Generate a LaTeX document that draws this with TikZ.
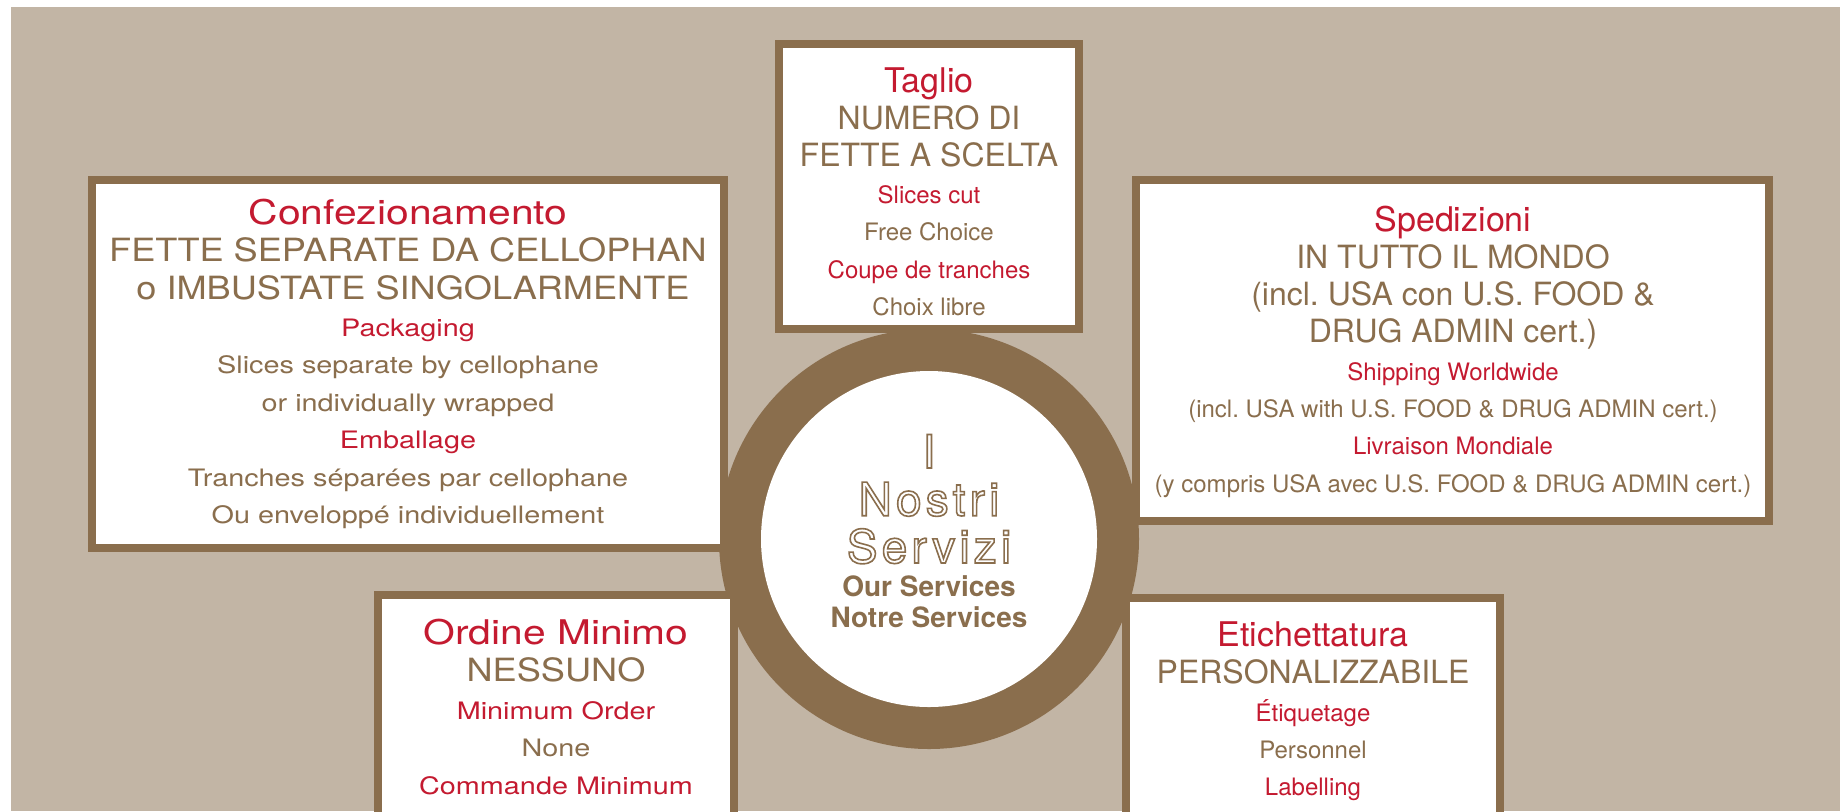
\documentclass[tikz,border=0pt]{standalone}
\usepackage{fontspec}
\setmainfont{TeX Gyre Heros}
\newfontfamily\widefont[FakeStretch=1.2]{TeX Gyre Heros}
\newfontfamily\capwidefont[FakeStretch=1.13]{TeX Gyre Heros}
\newfontfamily\hollowfont[LetterSpace=9]{TeX Gyre Heros}
\newcommand\regfam{}
\newcommand\capfam{}
\newcommand\hollow[1]{\special{pdf:literal direct 1 Tr 0.8 w}#1\special{pdf:literal direct 0 Tr}}
\frenchspacing
\definecolor{sand}{RGB}{194,181,165}
\definecolor{umber}{RGB}{138,110,77}
\definecolor{wine}{RGB}{196,26,48}

\begin{document}
\begin{tikzpicture}[x=0.5pt, y=-0.5pt,
    every node/.style={anchor=base, inner sep=0pt},
    panel/.style={draw=umber, fill=white, line width=4pt},
    ttl/.style={wine, font=\regfam\fontsize{17}{20}\selectfont},
    upr/.style={umber, font=\capfam\fontsize{16}{19}\selectfont},
    sub/.style={wine, font=\regfam\fontsize{12}{15}\selectfont},
    txt/.style={umber, font=\regfam\fontsize{12}{15}\selectfont},
    wide/.code={\let\regfam\widefont\let\capfam\capwidefont}]
    % Page and background
    \useasboundingbox (0,0) rectangle (1840,811);
    \clip (0,0) rectangle (1840,811);
    \fill[sand] (11,7) rectangle (1840,811);
    % Ring in the middle
    \fill[umber] (929,539) circle (105pt);
    \fill[white] (929,539) circle (84pt);
    \node[umber, font=\hollowfont\fontsize{23}{26}\selectfont] (ns1) at (929,468) {\hollow{I}};
    \node[umber, font=\hollowfont\fontsize{23}{26}\selectfont] (ns2) at (929,515.7) {\hollow{Nostri}};
    \node[umber, font=\hollowfont\fontsize{23}{26}\selectfont] (ns3) at (929,563) {\hollow{Servizi}};
    \node[umber, font=\bfseries\fontsize{14}{17}\selectfont] (ns4) at (929,596.7) {Our Services};
    \node[umber, font=\bfseries\fontsize{14}{17}\selectfont] (ns5) at (929,627.7) {Notre Services};
    % Taglio
    \draw[panel] (779,44) rectangle (1079,329);
    \node[ttl] (tag1) at (929,92) {Taglio};
    \node[upr] (tag2) at (929,129.2) {NUMERO DI};
    \node[upr] (tag3) at (929,166.4) {FETTE A SCELTA};
    \node[sub] (tag4) at (929,203.6) {Slices cut};
    \node[txt] (tag5) at (929,240.8) {Free Choice};
    \node[sub] (tag6) at (929,278) {Coupe de tranches};
    \node[txt] (tag7) at (929,315.2) {Choix libre};
    % Confezionamento
    \begin{scope}[wide]
        \draw[panel] (92,180) rectangle (724,548);
        \node[ttl] (con1) at (408,224.3) {Confezionamento};
        \node[upr] (con2) at (408,261.7) {FETTE SEPARATE DA CELLOPHAN};
        \node[upr] (con3) at (413,299.1) {o IMBUSTATE SINGOLARMENTE};
        \node[sub] (con4) at (408,336.5) {Packaging};
        \node[txt] (con5) at (408,373.9) {Slices separate by cellophane};
        \node[txt] (con6) at (408,411.3) {or individually wrapped};
        \node[sub] (con7) at (408,448.7) {Emballage};
        \node[txt] (con8) at (408,486.1) {Tranches séparées par cellophane};
        \node[txt] (con9) at (408,523.5) {Ou enveloppé individuellement};
    \end{scope}
    % Spedizioni
    \draw[panel] (1136,180) rectangle (1769,521);
    \node[ttl] (spe1) at (1453,231) {Spedizioni};
    \node[upr] (spe2) at (1453,268.3) {IN TUTTO IL MONDO};
    \node[upr] (spe3) at (1453,305.6) {(incl. USA con U.S. FOOD \&};
    \node[upr] (spe4) at (1453,342.9) {DRUG ADMIN cert.)};
    \node[sub] (spe5) at (1453,380.2) {Shipping Worldwide};
    \node[txt] (spe6) at (1453,417.5) {(incl. USA with U.S. FOOD \& DRUG ADMIN cert.)};
    \node[sub] (spe7) at (1453,454.8) {Livraison Mondiale};
    \node[txt] (spe8) at (1453,492.1) {(y compris USA avec U.S. FOOD \& DRUG ADMIN cert.)};
    % Ordine Minimo
    \begin{scope}[wide]
        \draw[panel] (378,595) rectangle (734,840);
        \node[ttl] (ord1) at (556,644) {Ordine Minimo};
        \node[upr] (ord2) at (556,681.5) {NESSUNO};
        \node[sub] (ord3) at (556,719) {Minimum Order};
        \node[txt] (ord4) at (556,756.5) {None};
        \node[sub] (ord5) at (556,794) {Commande Minimum};
    \end{scope}
    % Etichettatura
    \draw[panel] (1126,598) rectangle (1500,840);
    \node[ttl] (eti1) at (1313,646.5) {Etichettatura};
    \node[upr] (eti2) at (1313,683.8) {PERSONALIZZABILE};
    \node[sub] (eti3) at (1313,721.1) {Étiquetage};
    \node[txt] (eti4) at (1313,758.4) {Personnel};
    \node[sub] (eti5) at (1313,795.7) {Labelling};
\end{tikzpicture}
\end{document}
